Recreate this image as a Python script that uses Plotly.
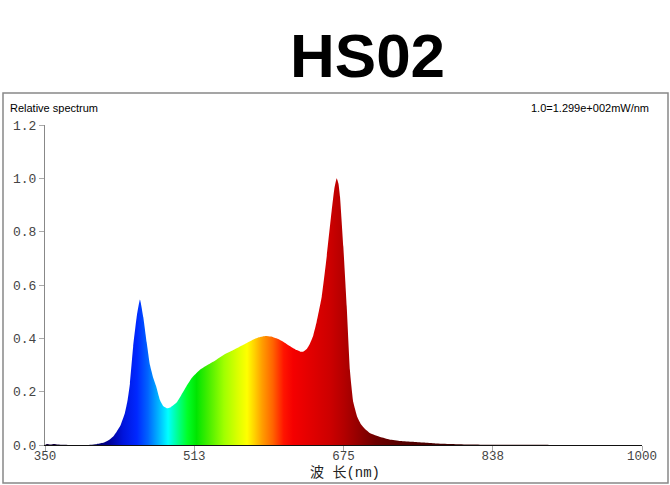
import plotly.graph_objects as go

# ---- data ----
wavelength_nm = [350, 352, 356, 360, 364, 370, 380, 395, 400, 406, 413, 420, 424, 428, 432,
                 437, 440, 442.5, 446, 450, 453.4, 457, 460.7, 464.3, 468, 471, 475, 479,
                 482.5, 487, 493, 498, 504, 510, 515, 519, 526, 533, 544, 555, 566, 577, 584,
                 590, 596, 602, 608, 613, 619, 624, 628, 631, 635, 638.5, 642, 645.8, 651.3,
                 656.7, 662.2, 665, 667.6, 669.5, 671.2, 674.8, 678.5, 682, 685.7, 690, 694,
                 700, 704, 715, 725, 737, 750, 762, 775, 791, 810, 838, 870, 900, 1000]
relative_power = [0.0, 0.004, 0.002, 0.004, 0.002, 0.001, 0.0, 0.0, 0.001, 0.003, 0.008, 0.02,
                  0.031, 0.05, 0.072, 0.12, 0.17, 0.231, 0.369, 0.485, 0.546, 0.48, 0.385, 0.30,
                  0.25, 0.22, 0.17, 0.145, 0.138, 0.142, 0.158, 0.185, 0.22, 0.252, 0.27, 0.283,
                  0.298, 0.312, 0.337, 0.356, 0.376, 0.396, 0.405, 0.409, 0.407, 0.400, 0.39,
                  0.379, 0.366, 0.356, 0.35, 0.35, 0.36, 0.381, 0.41, 0.462, 0.556, 0.706, 0.881,
                  0.96, 1.0, 0.98, 0.931, 0.744, 0.52, 0.28, 0.16, 0.105, 0.078, 0.055, 0.044,
                  0.03, 0.021, 0.015, 0.012, 0.009, 0.006, 0.004, 0.002, 0.001, 0.0005, 0.0, 0.0]

x_tick_vals = [350, 512.5, 675, 837.5, 1000]
x_tick_text = ["350", "513", "675", "838", "1000"]
y_tick_vals = [0.0, 0.2, 0.4, 0.6, 0.8, 1.0, 1.2]

title_text = "HS02"
left_note = "Relative spectrum"
right_note = "1.0=1.299e+002mW/nm"
x_title = "波 长(nm)"

# ---- colour of the fill along the wavelength axis ----
color_stops_nm = [
    (350, (20, 0, 60)), (380, (20, 0, 60)), (405, (0, 0, 100)), (420, (0, 0, 150)),
    (435, (0, 20, 220)), (450, (0, 40, 255)), (462, (0, 100, 255)), (475, (0, 190, 255)),
    (484, (0, 255, 255)), (494, (0, 255, 150)), (505, (0, 255, 40)), (515, (0, 230, 0)),
    (530, (80, 240, 0)), (545, (160, 255, 0)), (560, (220, 255, 0)), (570, (255, 255, 0)),
    (578, (255, 210, 0)), (586, (255, 160, 0)), (598, (255, 100, 0)), (610, (255, 20, 0)),
    (620, (245, 0, 0)), (640, (225, 0, 0)), (660, (205, 0, 0)), (675, (180, 0, 0)),
    (690, (150, 0, 0)), (710, (110, 0, 0)), (740, (85, 0, 0)), (800, (60, 0, 0)),
    (1000, (40, 0, 0)),
]
lo, hi = 350, 1000
colorscale = [[(nm - lo) / (hi - lo), "rgb(%d,%d,%d)" % c] for nm, c in color_stops_nm]

fig = go.Figure()
fig.add_trace(go.Scatter(
    x=wavelength_nm, y=relative_power, mode="lines",
    line=dict(width=0, shape="spline", smoothing=0.4),
    fill="tozeroy",
    fillgradient=dict(type="horizontal", colorscale=colorscale, start=lo, stop=hi),
    hoverinfo="skip", showlegend=False,
))

W, H = 670, 485
L, R, T, B = 45, 28, 125, 40
pw, ph = W - L - R, H - T - B


def px_x(px):
    return (px - L) / pw


def px_y(py):
    return (H - B - py) / ph


tick_font = dict(family="Liberation Mono, DejaVu Sans Mono, monospace", size=13, color="#444")
xtick_font = dict(family="Liberation Mono, DejaVu Sans Mono, monospace", size=12.5, color="#444")

fig.update_layout(
    width=W, height=H,
    margin=dict(l=L, r=R, t=T, b=B),
    paper_bgcolor="white", plot_bgcolor="white",
    xaxis=dict(range=[lo, hi], tickvals=x_tick_vals, ticktext=x_tick_text,
               showgrid=False, zeroline=False, showline=True, linecolor="#111", linewidth=1,
               ticks="outside", ticklen=5, tickcolor="#aaa", tickfont=xtick_font,
               ticklabelstandoff=-6),
    yaxis=dict(range=[0, 1.2], tickvals=y_tick_vals, tickformat=".1f",
               showgrid=False, zeroline=False, showline=True, linecolor="#888", linewidth=1,
               ticks="outside", ticklen=5, tickcolor="#aaa", tickfont=tick_font),
    shapes=[dict(type="rect", xref="paper", yref="paper",
                 x0=px_x(3), x1=px_x(668), y0=px_y(483), y1=px_y(93),
                 line=dict(color="#888", width=1.5), fillcolor="rgba(0,0,0,0)", layer="below")],
    annotations=[
        dict(text=title_text, xref="paper", yref="paper", x=px_x(367), y=px_y(55),
             xanchor="center", yanchor="middle", showarrow=False,
             font=dict(family="Liberation Sans, Arial", size=62, color="black", weight="bold")),
        dict(text=left_note, xref="paper", yref="paper", x=px_x(8), y=px_y(108),
             xanchor="left", yanchor="middle", showarrow=False,
             font=dict(family="Liberation Sans, Arial", size=11, color="black")),
        dict(text=right_note, xref="paper", yref="paper", x=px_x(651), y=px_y(108),
             xanchor="right", yanchor="middle", showarrow=False,
             font=dict(family="Liberation Sans, Arial", size=11, color="black")),
        dict(text=x_title, xref="paper", yref="paper", x=px_x(345), y=px_y(473),
             xanchor="center", yanchor="middle", showarrow=False,
             font=dict(family="Liberation Mono, Noto Sans CJK SC", size=14, color="#222")),
    ],
)

fig.write_html("out.html",
               config={"displayModeBar": False},
               post_script="document.body.style.margin='0';document.body.style.padding='0';"
                           "document.body.style.overflow='hidden';")
